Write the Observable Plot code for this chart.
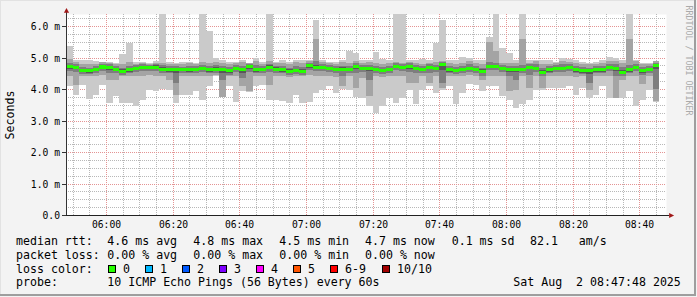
<!DOCTYPE html>
<html><head><meta charset="utf-8">
<script src="https://cdn.jsdelivr.net/npm/d3@7"></script>
<script src="https://cdn.jsdelivr.net/npm/@observablehq/plot@0.6"></script>
<style>
html,body{margin:0;padding:0;background:#f3f3f3;}
#wrap{position:relative;width:697px;height:297px;background:#f3f3f3;overflow:hidden;font-family:'DejaVu Sans Mono',monospace;}
#chart svg{display:block;}
.t{position:absolute;font-size:11.6px;line-height:14px;white-space:pre;color:#000;}
.box{position:absolute;width:8px;height:8px;box-sizing:border-box;border:1px solid #000;}
.edge{position:absolute;}
</style></head><body>
<div id="wrap"><div id="chart"></div></div>
<script>
// ---- data: 2-minute steps starting 05:48 (t in minutes since 05:48) ----
const med = [4.72,4.68,4.58,4.58,4.61,4.70,4.69,4.63,4.55,4.61, 4.66,4.69,4.69,4.69,4.63,4.61,4.63,4.61,4.61,4.63,
  4.65,4.61,4.63,4.61,4.58,4.66,4.61,4.72,4.61,4.63, 4.69,4.63,4.61,4.56,4.59,4.56,4.74,4.68,4.69,4.66,
  4.63,4.63,4.63,4.72,4.65,4.66,4.63,4.59,4.63,4.72, 4.69,4.72,4.66,4.63,4.68,4.65,4.77,4.61,4.59,4.63,
  4.66,4.63,4.56,4.72,4.72,4.66,4.63,4.63,4.63,4.69, 4.66,4.53,4.61,4.66,4.66,4.69,4.61,4.58,4.58,4.61,
  4.61,4.69,4.66,4.53,4.61,4.69,4.58,4.63,4.74];
const hi1 = [5.35,4.93,4.93,4.93,4.90,4.87,4.87,4.82,5.11,5.47, 4.87,4.87,4.82,4.90,6.50,4.87,4.82,4.87,4.87,4.82,
  6.50,5.85,4.98,4.93,4.87,4.87,4.93,4.84,5.00,4.87, 6.50,4.87,4.93,4.87,4.93,4.93,4.93,6.19,4.93,4.87,
  4.87,4.93,5.21,5.14,4.93,4.93,5.16,4.95,4.93,6.50, 6.50,4.93,4.93,4.95,4.93,5.45,6.19,4.93,4.93,5.03,
  4.98,4.93,4.93,5.66,6.50,5.29,5.14,4.93,6.50,4.93, 4.93,4.93,4.93,4.87,4.98,4.95,4.93,4.87,4.82,4.87,
  4.93,5.01,4.98,4.93,6.50,4.93,4.82,4.82,4.90];
const lo1 = [4.10,3.82,4.14,3.68,3.82,4.14,3.56,3.79,3.56,3.56, 3.45,3.66,3.98,3.93,4.00,3.98,3.56,3.82,3.82,3.93,
  3.66,4.08,4.40,3.75,4.08,3.58,3.93,3.89,4.08,4.14, 3.66,3.66,3.61,3.56,3.82,3.56,3.58,3.87,3.98,4.08,
  3.87,4.00,3.98,3.75,3.72,3.45,3.24,3.45,3.72,3.54, 3.72,3.98,3.51,3.98,4.08,3.87,3.98,4.08,3.51,3.87,
  4.17,4.14,3.93,4.08,4.08,3.77,3.66,3.40,3.51,3.64, 3.98,3.98,4.03,4.03,4.03,4.08,3.82,4.03,3.72,3.82,
  4.08,3.72,3.72,3.72,3.93,3.47,3.66,3.98,3.58];
const hi2 = [4.95,4.85,4.80,4.78,4.80,4.85,4.82,4.80,4.78,4.85, 4.80,4.82,4.80,4.84,4.82,4.80,4.78,4.80,4.82,4.78,
  4.85,4.84,4.86,4.84,4.80,4.82,4.85,4.84,4.88,4.80, 4.88,4.84,4.82,4.80,4.85,4.84,4.88,5.58,4.86,4.82,
  4.80,4.85,4.84,4.90,4.82,4.85,4.82,4.80,4.82,4.86, 4.84,4.86,4.82,4.80,4.84,4.86,4.90,4.82,4.80,4.84,
  4.88,4.82,4.80,5.50,5.20,4.84,4.82,4.84,5.60,4.84, 4.88,4.80,4.80,4.82,4.88,4.86,4.82,4.80,4.78,4.80,
  4.82,4.90,4.88,4.84,5.60,4.88,4.78,4.80,4.88];
const lo2 = [4.42,4.14,4.40,4.40,4.42,4.45,4.30,4.30,4.40,4.42, 4.40,4.42,4.45,4.42,4.40,4.30,3.82,4.40,4.42,4.40,
  4.40,4.42,4.45,3.75,4.40,4.42,4.08,3.93,4.42,4.40, 4.14,4.40,4.42,4.38,4.40,4.40,4.45,4.42,4.40,4.42,
  4.38,4.10,4.40,4.03,4.35,3.77,4.40,4.38,4.42,4.42, 4.40,4.20,4.20,4.40,4.20,4.42,4.02,4.42,4.40,4.42,
  4.45,4.42,4.30,4.42,4.42,4.40,3.93,3.98,4.40,4.03, 4.42,4.03,4.40,4.42,4.40,4.42,4.38,4.40,3.98,4.40,
  4.42,4.40,3.72,4.30,4.40,4.42,4.17,4.40,3.61];
const hi3 = [4.82,4.78,4.70,4.68,4.72,4.80,4.78,4.74,4.68,4.72, 4.76,4.78,4.77,4.80,4.76,4.72,4.72,4.71,4.72,4.72,
  4.76,4.73,4.75,4.72,4.70,4.76,4.74,4.80,4.76,4.72, 4.80,4.74,4.72,4.68,4.72,4.70,4.82,4.90,4.78,4.76,
  4.73,4.74,4.74,4.82,4.75,4.76,4.73,4.70,4.73,4.82, 4.79,4.82,4.76,4.72,4.78,4.76,4.85,4.72,4.70,4.74,
  4.78,4.73,4.68,4.85,4.84,4.76,4.73,4.73,4.76,4.78, 4.78,4.68,4.72,4.76,4.78,4.78,4.72,4.70,4.68,4.72,
  4.73,4.80,4.78,4.70,4.76,4.80,4.70,4.73,4.84];
const lo3 = [4.58,4.55,4.48,4.47,4.50,4.58,4.50,4.50,4.46,4.50, 4.54,4.56,4.58,4.57,4.52,4.50,4.20,4.50,4.50,4.52,
  4.53,4.50,4.52,4.30,4.46,4.54,4.35,4.55,4.50,4.52, 4.55,4.52,4.50,4.46,4.48,4.45,4.60,4.56,4.57,4.54,
  4.50,4.40,4.52,4.50,4.53,4.30,4.52,4.48,4.52,4.60, 4.57,4.55,4.50,4.52,4.50,4.54,4.20,4.50,4.48,4.52,
  4.55,4.52,4.42,4.60,4.60,4.54,4.40,4.30,4.52,4.45, 4.55,4.42,4.50,4.55,4.55,4.57,4.50,4.47,4.20,4.50,
  4.50,4.57,4.40,4.42,4.50,4.57,4.46,4.52,4.00];
const hi4 = [4.77,4.73,4.65,4.64,4.66,4.75,4.74,4.68,4.62,4.67, 4.71,4.74,4.73,4.75,4.70,4.66,4.68,4.66,4.67,4.68,
  4.70,4.67,4.69,4.67,4.64,4.71,4.67,4.77,4.68,4.68, 4.75,4.69,4.66,4.62,4.65,4.62,4.79,4.75,4.74,4.71,
  4.68,4.69,4.68,4.77,4.70,4.71,4.68,4.65,4.68,4.77, 4.74,4.77,4.71,4.68,4.73,4.70,4.81,4.66,4.64,4.68,
  4.71,4.68,4.62,4.77,4.77,4.71,4.68,4.68,4.68,4.74, 4.71,4.60,4.66,4.71,4.71,4.74,4.66,4.64,4.63,4.66,
  4.67,4.74,4.71,4.60,4.67,4.74,4.63,4.68,4.79];
const lo4 = [4.65,4.62,4.53,4.52,4.56,4.64,4.60,4.57,4.50,4.55, 4.60,4.63,4.64,4.63,4.57,4.55,4.50,4.56,4.55,4.57,
  4.59,4.55,4.57,4.52,4.52,4.60,4.52,4.64,4.55,4.57, 4.62,4.57,4.55,4.50,4.53,4.50,4.67,4.62,4.63,4.60,
  4.57,4.56,4.57,4.64,4.59,4.58,4.57,4.53,4.57,4.66, 4.63,4.65,4.60,4.57,4.62,4.59,4.60,4.55,4.53,4.57,
  4.60,4.57,4.50,4.66,4.66,4.60,4.55,4.55,4.57,4.62, 4.60,4.47,4.55,4.60,4.60,4.63,4.55,4.52,4.48,4.55,
  4.55,4.63,4.58,4.47,4.55,4.63,4.52,4.57,4.62];

// ---- axes / ticks ----
const yMajor = [0,1,2,3,4,5,6];
const yMajorLabels = ["0.0","1.0 m","2.0 m","3.0 m","4.0 m","5.0 m","6.0 m"];
const yMinor = [0.25,0.5,0.75,1.25,1.5,1.75,2.25,2.5,2.75,3.25,3.5,3.75,4.25,4.5,4.75,5.25,5.5,5.75,6.25];
const xMajor = [12,32,52,72,92,112,132,152,172];
const xMajorLabels = ["06:00","06:20","06:40","07:00","07:20","07:40","08:00","08:20","08:40"];
const xMinor = [2,7,17,22,27,37,42,47,57,62,67,77,82,87,97,102,107,117,122,127,137,142,147,157,162,167,177];

// ---- legend ----
const rttStats = ["4.6 ms avg","4.8 ms max","4.5 ms min","4.7 ms now","0.1 ms sd","82.1   am/s"];
const lossStats = ["0.00 % avg","0.00 % max","0.00 % min","0.00 % now"];
const lossLabels = ["0","1","2","3","4","5","6-9","10/10"];
const lossColors = ["#26ff00","#00b8ff","#0059ff","#7e00ff","#ff00ff","#ff5500","#ff0000","#a10000"];
const probeText = "10 ICMP Echo Pings (56 Bytes) every 60s";
const dateText = "Sat Aug  2 08:47:48 2025";

const rows = med.map((v,i)=>({t:i*2, med:v, lo1:lo1[i], hi1:hi1[i], lo2:lo2[i], hi2:hi2[i], lo3:lo3[i], hi3:hi3[i], lo4:lo4[i], hi4:hi4[i]}));
rows.push({...rows[rows.length-1], t: rows.length*2});

const upArrow = {draw(ctx){ctx.moveTo(0,-2.4);ctx.lineTo(2.6,2.2);ctx.lineTo(-2.6,2.2);ctx.closePath();}};
const rightArrow = {draw(ctx){ctx.moveTo(2.6,0);ctx.lineTo(-2.4,-2.5);ctx.lineTo(-2.4,2.5);ctx.closePath();}};

const band = (lo, hi, fill) => Plot.areaY(rows, {x:"t", y1:lo, y2:hi, fill, curve:"step-after", clip:true});
const grid = {strokeDasharray:"1,1"};

const chart = Plot.plot({
  width:697, height:232, marginLeft:66, marginRight:31, marginTop:14, marginBottom:17,
  style:{fontFamily:"'DejaVu Sans Mono', monospace", fontSize:"9.7px", background:"transparent", overflow:"visible", color:"#000"},
  x:{domain:[0,180], round:true}, y:{domain:[0,6.381], round:true},
  marks:[
    Plot.frame({fill:"white", stroke:"none"}),
    Plot.ruleY(yMinor, {stroke:"#b8b8b8", ...grid}),
    Plot.ruleX(xMinor, {stroke:"#b8b8b8", ...grid}),
    Plot.ruleY(yMajor.slice(1), {stroke:"#e49494", ...grid}),
    Plot.ruleX(xMajor, {stroke:"#e49494", ...grid}),
    band("lo1","hi1","#cacaca"),
    band("lo2","hi2","#a4a4a4"),
    band("lo3","hi3","#7e7e7e"),
    band("lo4","hi4","#585858"),
    Plot.areaY(rows, {x:"t", y1:d=>d.med-0.05, y2:d=>d.med+0.05, fill:"#26ff00", curve:"step-after"}),
    Plot.axisY(yMajor, {tickFormat:d=>yMajorLabels[yMajor.indexOf(d)], tickSize:4, tickPadding:2.5, fontSize:9.7, label:null, stroke:"#333"}),
    Plot.axisX(xMajor, {tickFormat:d=>xMajorLabels[xMajor.indexOf(d)], tickSize:0, tickPadding:5.4, fontSize:9.7, label:null}),
    Plot.ruleX([0], {y1:0, y2:6.43, stroke:"#333"}),
    Plot.ruleY([0], {x1:0, x2:180.9, stroke:"#222"}),
    Plot.dot([{x:0, y:6.51}], {x:"x", y:"y", symbol:upArrow, r:3, fill:"#a01818"}),
    Plot.dot([{x:181.5, y:0}], {x:"x", y:"y", symbol:rightArrow, r:3, fill:"#a01818"}),
    Plot.text(["Seconds"], {text:d=>d, frameAnchor:"left", textAnchor:"middle", lineAnchor:"middle", rotate:-90, dx:-56, fontSize:11.6, fill:"#000"}),
    Plot.text(["RRDTOOL / TOBI OETIKER"], {text:d=>d, frameAnchor:"top-right", textAnchor:"middle", lineAnchor:"middle", rotate:90, dx:22, dy:46, fontSize:8.3, fill:"#aaa"})
  ]
});
document.getElementById("chart").appendChild(chart);

// ---- legend (HTML below the svg) ----
const wrap = document.getElementById("wrap");
function txt(s, x, baseline){ const e=document.createElement("div"); e.className="t"; e.textContent=s; e.style.left=x+"px"; e.style.top=(baseline-11.02)+"px"; wrap.appendChild(e); }
const statX = [107.3,193.3,279.3,365,451.7,530];
txt("median rtt:", 16, 245.3);
rttStats.forEach((s,i)=>txt(s, statX[i], 245.3));
txt("packet loss:", 16, 258.9);
lossStats.forEach((s,i)=>txt(s, statX[i], 258.9));
txt("loss color:", 16, 272.6);
const boxX = [108,145,182,219,256,293,330,382];
lossLabels.forEach((s,i)=>{
  const b=document.createElement("div"); b.className="box"; b.style.left=boxX[i]+"px"; b.style.top="265px"; b.style.background=lossColors[i]; wrap.appendChild(b);
  txt(s, boxX[i]+15, 272.6);
});
txt("probe:", 16, 286.2);
txt(probeText, 107.3, 286.2);
txt(dateText, 513.3, 286.2);

// frame shading
function edge(l,t,w,h,c){const e=document.createElement("div");e.className="edge";Object.assign(e.style,{left:l+"px",top:t+"px",width:w+"px",height:h+"px",background:c});wrap.appendChild(e);}
edge(0,0,694,1,"#e2e2e2"); edge(0,0,1,294,"#e2e2e2");
edge(694,0,2,296,"#9e9e9e"); edge(0,294,696,2,"#9e9e9e");
</script></body></html>
